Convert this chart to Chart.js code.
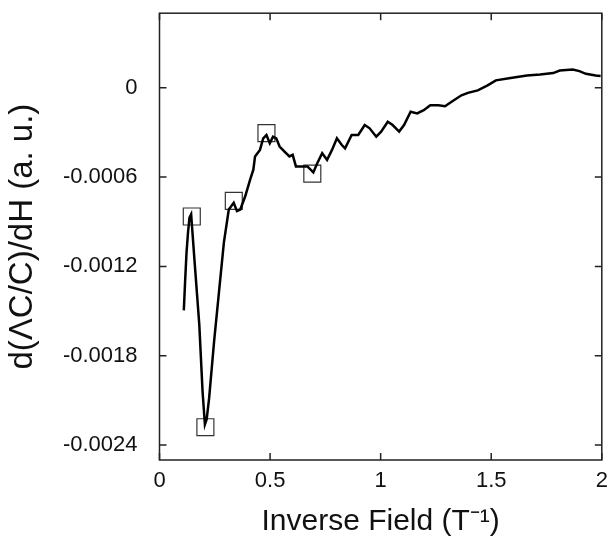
<!DOCTYPE html>
<html>
<head>
<meta charset="utf-8">
<script src="https://cdn.jsdelivr.net/npm/chart.js@4"></script>
<style>
  body { margin: 0; background: #fff; }
  #wrap { width: 615px; height: 543px; }
</style>
</head>
<body>
<div id="wrap"><canvas id="myChart"></canvas></div>
<script>
//Datos
var inverseField = [0.110, 0.1156, 0.1222, 0.1289, 0.1356, 0.1431, 0.1578, 0.180, 0.1947, 0.2053, 0.2133,
    0.2244, 0.2467, 0.2689, 0.2911, 0.3133, 0.3356, 0.3502, 0.3653, 0.3876, 0.4098, 0.4244, 0.432,
    0.4542, 0.4689, 0.4836, 0.4987, 0.5133, 0.528, 0.5431, 0.5653, 0.5876, 0.6022, 0.6169, 0.6391,
    0.6689, 0.6956, 0.7133, 0.7356, 0.7578, 0.780, 0.8022, 0.8244, 0.8391, 0.8689, 0.8987, 0.928,
    0.9502, 0.980, 1.0022, 1.032, 1.0542, 1.0836, 1.1058, 1.1356, 1.1653, 1.1947, 1.2244, 1.2613,
    1.2911, 1.3209, 1.3653, 1.3947, 1.4391, 1.4836, 1.5209, 1.5876, 1.6613, 1.7209, 1.780, 1.8098,
    1.8689, 1.8987, 1.928, 1.9724, 1.9947];
var dCdH = [-0.001495, -0.001307, -0.001107, -0.000973, -0.000873, -0.000851, -0.001151, -0.001593,
    -0.00204, -0.002262, -0.002227, -0.002085, -0.001707, -0.001373, -0.00104, -0.000818, -0.000773,
    -0.000829, -0.000818, -0.000729, -0.000618, -0.000551, -0.000462, -0.000418, -0.00034, -0.000318,
    -0.000373, -0.000329, -0.00034, -0.000395, -0.000429, -0.000462, -0.000451, -0.000529, -0.000529,
    -0.000529, -0.000569, -0.000507, -0.00044, -0.000485, -0.000418, -0.00034, -0.000385, -0.000407,
    -0.000318, -0.000318, -0.000251, -0.000273, -0.000329, -0.000295, -0.000229, -0.000251, -0.000295,
    -0.000251, -0.000162, -0.000173, -0.000151, -0.000118, -0.000118, -0.000125, -0.000095, -0.000051,
    -0.000035, -0.000018, 0.000015, 0.000049, 0.000065, 0.000082, 0.000089, 0.000098, 0.000115,
    0.000122, 0.000111, 0.000093, 0.000082, 0.000078];

//Cuadros marcados
var markerX = [0.146, 0.2075, 0.336, 0.4836, 0.691];
var markerY = [-0.000865, -0.00228, -0.00076, -0.000305, -0.000577];

var xTicks = [0, 0.5, 1, 1.5, 2];
var xTickLabels = ['0', '0.5', '1', '1.5', '2'];
var yTicks = [0, -0.0006, -0.0012, -0.0018, -0.0024];
var yTickLabels = ['0', '-0.0006', '-0.0012', '-0.0018', '-0.0024'];

var curve = inverseField.map(function (x, i) { return { x: x, y: dCdH[i] }; });
var markers = markerX.map(function (x, i) { return { x: x, y: markerY[i] }; });

//Marco y marcas hacia adentro
var framePlugin = {
    id: 'frame',
    afterDatasetsDraw: function (chart) {
        var ctx = chart.ctx;
        var a = chart.chartArea;
        var xs = chart.scales.x;
        var ys = chart.scales.y;
        var len = 7;
        ctx.save();
        ctx.strokeStyle = '#222';
        ctx.lineWidth = 1.5;
        ctx.strokeRect(a.left, a.top, a.right - a.left, a.bottom - a.top);
        ctx.beginPath();
        xTicks.forEach(function (v) {
            var px = xs.getPixelForValue(v);
            ctx.moveTo(px, a.bottom); ctx.lineTo(px, a.bottom - len);
            ctx.moveTo(px, a.top); ctx.lineTo(px, a.top + len);
        });
        yTicks.forEach(function (v) {
            var py = ys.getPixelForValue(v);
            ctx.moveTo(a.left, py); ctx.lineTo(a.left + len, py);
            ctx.moveTo(a.right, py); ctx.lineTo(a.right - len, py);
        });
        ctx.stroke();
        ctx.restore();
    }
};

var ctx = document.getElementById('myChart').getContext('2d');
var myChart = new Chart(ctx, {
    type: 'scatter',
    data: {
        datasets: [{
            label: 'curve',
            data: curve,
            showLine: true,
            borderColor: '#000',
            borderWidth: 2.5,
            pointRadius: 0,
            tension: 0
        }, {
            label: 'markers',
            data: markers,
            showLine: false,
            pointStyle: 'rect',
            pointRadius: 12,
            pointHoverRadius: 12,
            borderColor: '#333',
            backgroundColor: 'rgba(0,0,0,0)',
            pointBorderWidth: 1.2
        }]
    },
    options: {
        responsive: true,
        maintainAspectRatio: false,
        animation: false,
        layout: { padding: { top: 9, right: 5, left: 0, bottom: 0 } },
        plugins: { legend: { display: false }, tooltip: { enabled: false } },
        scales: {
            x: {
                type: 'linear',
                min: 0,
                max: 2,
                grid: { display: false, drawTicks: false },
                border: { display: false },
                afterBuildTicks: function (scale) {
                    scale.ticks = xTicks.map(function (v) { return { value: v }; });
                },
                afterFit: function (scale) {
                    scale.height = 83;
                    scale.paddingLeft = 0;
                    scale.paddingRight = 0;
                },
                ticks: {
                    padding: 8,
                    maxRotation: 0,
                    autoSkip: false,
                    color: '#111',
                    font: { family: 'Liberation Sans', size: 22 },
                    callback: function (value, index) { return xTickLabels[index]; }
                },
                title: {
                    display: true,
                    text: 'Inverse Field (T\u207B\u00B9)',
                    color: '#111',
                    font: { family: 'Liberation Sans', size: 30 },
                    padding: { top: 0, bottom: 3 }
                }
            },
            y: {
                type: 'linear',
                min: -0.0025,
                max: 0.0005,
                grid: { display: false, drawTicks: false },
                border: { display: false },
                afterBuildTicks: function (scale) {
                    scale.ticks = yTicks.map(function (v) { return { value: v }; });
                },
                afterFit: function (scale) {
                    scale.width = 159.5;
                    scale.paddingTop = 0;
                    scale.paddingBottom = 0;
                },
                ticks: {
                    padding: 22,
                    autoSkip: false,
                    color: '#111',
                    font: { family: 'Liberation Sans', size: 22 },
                    callback: function (value, index) { return yTickLabels[index]; }
                },
                title: {
                    display: true,
                    text: 'd(\u039BC/C)/dH (a. u.)',
                    color: '#111',
                    font: { family: 'Liberation Sans', size: 33 },
                    padding: { top: 3, bottom: 0 }
                }
            }
        }
    },
    plugins: [framePlugin]
});
</script>
</body>
</html>
